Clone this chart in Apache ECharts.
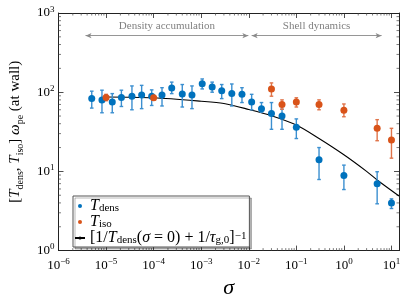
<!DOCTYPE html>
<html>
<head>
<meta charset="utf-8">
<script src="https://cdn.jsdelivr.net/npm/echarts@6/dist/echarts.min.js"></script>
<style>
html,body{margin:0;padding:0;background:#fff;}
#chart{width:407px;height:304px;}
</style>
</head>
<body>
<div id="chart"></div>
<script>
// ---- data ----
var blueX  = [5e-6, 8.2e-6, 1.35e-5, 2.1e-5, 3.5e-5, 5.6e-5, 9.1e-5, 1.5e-4, 2.4e-4, 4e-4, 6.4e-4, 1.05e-3, 1.7e-3, 2.7e-3, 4.4e-3, 7.2e-3, 1.15e-2, 1.85e-2, 3.0e-2, 5e-2, 0.1, 0.3, 1, 5, 10];
var blueY  = [83, 80, 75, 86, 89, 92, 89, 92, 113, 95, 92, 128, 116, 104, 96, 94, 75, 62, 54, 50, 36, 14, 8.9, 7.0, 4.0];
var blueLo = [63, 55, 55, 66, 60, 62, 68, 67, 96, 65, 62, 110, 100, 83, 67, 74, 60, 56, 34, 34, 26, 7.9, 5.9, 3.9, 3.4];
var blueHi = [103, 106, 96, 106, 120, 122, 107, 114, 134, 125, 120, 147, 134, 125, 127, 114, 94, 74, 74, 61, 46, 20, 12, 9.9, 4.5];

var orangeX  = [1e-5, 1e-4, 0.03, 0.05, 0.1, 0.3, 1, 5, 10];
var orangeY  = [86, 85, 110, 70, 75, 70, 59, 35, 25];
var orangeLo = [78, 79, 89, 61, 65, 60, 49, 24.4, 14.7];
var orangeHi = [94, 91, 131, 80, 85, 80, 71, 45, 35];

var fitX = [1e-5, 1e-4, 1e-3, 3e-3, 1e-2, 3e-2, 0.1, 0.3, 1, 3, 5, 14.4];
var fitY = [87, 85, 77, 72, 60.6, 50.5, 38.5, 26, 16.2, 10, 7.8, 4.9];

var xDecades = [-6, -5, -4, -3, -2, -1, 0, 1];
var yDecades = [0, 1, 2];
var minorSteps = [2, 3, 4, 5, 6, 7, 8, 9];

var annotations = [
  {text: 'Density accumulation', from: 3.7e-6, to: 0.0098, y: 518},
  {text: 'Shell dynamics', from: 0.0115, to: 6.2, y: 518}
];

var legendText = {
  'T_dens': '{i|T}{s|dens}',
  'T_iso': '{i|T}{s|iso}',
  'fit': '{n|[1/}{i|T}{s|dens}{n|(}{i|σ}{n| = 0) + 1/}{i|τ}{s|g,0}{n|]}{p|−1}'
};

// ---- chart ----
var FONT = 'Liberation Serif';
var XMIN = 1e-6, XMAX = 14.4, YMIN = 1, YMAX = 1000;
var BLUE = '#0072BD', BLUE_E = '#3b8fd0';
var ORANGE = '#D95319', ORANGE_E = '#e0744a';

function zip3(a, b, c) { return a.map(function (v, i) { return [v, b[i], c[i]]; }); }
function zip2(a, b) { return a.map(function (v, i) { return [v, b[i]]; }); }

// minor tick positions (axis decoration, k * 10^d)
var xMinor = [], yMinor = [];
xDecades.forEach(function (d) { minorSteps.forEach(function (k) {
  var v = k * Math.pow(10, d); if (v < XMAX) xMinor.push([v, YMIN]); }); });
yDecades.forEach(function (d) { minorSteps.forEach(function (k) {
  yMinor.push([XMIN, k * Math.pow(10, d)]); }); });

function tickLabel(value) {
  var lg = Math.log10(value);
  var e = Math.round(lg);
  if (Math.abs(lg - e) > 1e-6) return '';
  return '{b|10}{p|' + (e < 0 ? '−' + (-e) : e) + '}';
}
var tickRich = {
  b: {fontFamily: FONT, fontSize: 13, lineHeight: 16, color: '#000'},
  p: {fontFamily: FONT, fontSize: 9, lineHeight: 8, verticalAlign: 'top', color: '#000'}
};

function errRender(color) {
  return function (params, api) {
    var x = api.value(0), lo = api.value(1), hi = api.value(2);
    var p1 = api.coord([x, lo]), p2 = api.coord([x, hi]);
    var c = 1.8;
    var st = {stroke: color, lineWidth: 1.4};
    return {type: 'group', children: [
      {type: 'line', shape: {x1: p1[0], y1: p1[1], x2: p2[0], y2: p2[1]}, style: st},
      {type: 'line', shape: {x1: p1[0] - c, y1: p1[1], x2: p1[0] + c, y2: p1[1]}, style: st},
      {type: 'line', shape: {x1: p2[0] - c, y1: p2[1], x2: p2[0] + c, y2: p2[1]}, style: st}
    ]};
  };
}
var minorStyle = {stroke: '#444', lineWidth: 0.7};
function xMinorRender(params, api) {
  var v = api.value(0);
  var b = api.coord([v, YMIN]), t = api.coord([v, YMAX]);
  var L = 2.5;
  return {type: 'group', children: [
    {type: 'line', shape: {x1: b[0], y1: b[1], x2: b[0], y2: b[1] - L}, style: minorStyle},
    {type: 'line', shape: {x1: t[0], y1: t[1], x2: t[0], y2: t[1] + L}, style: minorStyle}
  ]};
}
function yMinorRender(params, api) {
  var v = api.value(1);
  var l = api.coord([XMIN, v]), r = api.coord([XMAX, v]);
  var L = 2.5;
  return {type: 'group', children: [
    {type: 'line', shape: {x1: l[0], y1: l[1], x2: l[0] + L, y2: l[1]}, style: minorStyle},
    {type: 'line', shape: {x1: r[0], y1: r[1], x2: r[0] - L, y2: r[1]}, style: minorStyle}
  ]};
}

var axisCommon = {
  type: 'log', logBase: 10,
  axisLine: {show: true, lineStyle: {color: '#222', width: 1}},
  axisTick: {show: true, inside: true, length: 5, lineStyle: {color: '#222', width: 0.8}},
  minorTick: {show: false},
  splitLine: {show: false},
  minorSplitLine: {show: false}
};

var chart = echarts.init(document.getElementById('chart'), null, {renderer: 'canvas'});
chart.setOption({
  animation: false,
  backgroundColor: '#fff',
  grid: {left: 52, right: 8, top: 13, bottom: 45},
  xAxis: [
    Object.assign({}, axisCommon, {
      position: 'bottom', min: XMIN, max: XMAX, interval: 1,
      axisLabel: {show: true, margin: 7, formatter: tickLabel, rich: tickRich, showMaxLabel: false},
      name: 'σ', nameLocation: 'middle', nameGap: 25,
      nameTextStyle: {fontFamily: FONT, fontStyle: 'italic', fontSize: 22, color: '#000'}
    }),
    Object.assign({}, axisCommon, {
      position: 'top', min: XMIN, max: XMAX, interval: 1, axisLabel: {show: false}
    })
  ],
  yAxis: [
    Object.assign({}, axisCommon, {
      position: 'left', min: YMIN, max: YMAX, interval: 1,
      axisLabel: {show: true, margin: 4, formatter: tickLabel, rich: tickRich},
      name: '{n|[}{i|T}{s|dens}{n|, }{i|T}{s|iso}{n|] }{i|ω}{s|pe}{n| (at wall)}',
      nameLocation: 'middle', nameGap: 33, nameRotate: 90,
      nameTextStyle: {
        fontFamily: FONT, fontSize: 15, color: '#000',
        rich: {
          n: {fontFamily: FONT, fontSize: 15, lineHeight: 20, color: '#000'},
          i: {fontFamily: FONT, fontSize: 15, lineHeight: 20, fontStyle: 'italic', color: '#000'},
          s: {fontFamily: FONT, fontSize: 10, lineHeight: 10, verticalAlign: 'bottom', color: '#000'}
        }
      }
    }),
    Object.assign({}, axisCommon, {
      position: 'right', min: YMIN, max: YMAX, interval: 1, axisLabel: {show: false}
    })
  ],
  legend: {
    show: true, orient: 'vertical', left: 73, top: 196,
    data: [
      {name: 'T_dens', icon: 'circle'},
      {name: 'T_iso', icon: 'circle'},
      {name: 'fit'}
    ],
    itemWidth: 10, itemHeight: 4, itemGap: 0,
    padding: [2, 3, 1, 1],
    backgroundColor: '#fff', borderColor: '#555', borderWidth: 1, borderRadius: 0,
    shadowColor: 'rgba(0,0,0,0.28)', shadowBlur: 0, shadowOffsetX: 2, shadowOffsetY: 2,
    selectedMode: false,
    formatter: function (name) { return legendText[name]; },
    textStyle: {
      fontFamily: FONT, fontSize: 16, color: '#000',
      rich: {
        n: {fontFamily: FONT, fontSize: 16, lineHeight: 15, color: '#000'},
        i: {fontFamily: FONT, fontSize: 16, lineHeight: 15, fontStyle: 'italic', color: '#000'},
        s: {fontFamily: FONT, fontSize: 11, lineHeight: 9, verticalAlign: 'bottom', color: '#000'},
        p: {fontFamily: FONT, fontSize: 11, lineHeight: 8, verticalAlign: 'top', color: '#000'}
      }
    }
  },
  series: [
    {
      name: 'xMinorTicks', type: 'custom', renderItem: xMinorRender, data: xMinor,
      encode: {x: 0, y: 1}, silent: true, z: 2, xAxisIndex: 0, yAxisIndex: 0
    },
    {
      name: 'yMinorTicks', type: 'custom', renderItem: yMinorRender, data: yMinor,
      encode: {x: 0, y: 1}, silent: true, z: 2, xAxisIndex: 0, yAxisIndex: 0
    },
    {
      name: 'fit', type: 'line', data: zip2(fitX, fitY), smooth: 0.3, symbol: 'none',
      lineStyle: {color: '#000', width: 1.1}, itemStyle: {color: '#000'}, z: 3,
      markLine: {
        silent: true, symbol: ['arrow', 'arrow'], symbolSize: [4, 6],
        lineStyle: {color: '#8a8a8a', width: 0.9, type: 'solid'},
        label: {show: true, position: 'insideMiddleTop', distance: 4,
          fontFamily: FONT, fontSize: 11, color: '#808080',
          formatter: function (p) { return p.name; }},
        data: annotations.map(function (a) {
          return [{name: a.text, coord: [a.from, a.y]}, {coord: [a.to, a.y]}];
        })
      }
    },
    {
      name: 'T_dens_err', type: 'custom', renderItem: errRender(BLUE_E),
      data: zip3(blueX, blueLo, blueHi), encode: {x: 0, y: [1, 2]}, z: 4, silent: true
    },
    {
      name: 'T_iso_err', type: 'custom', renderItem: errRender(ORANGE_E),
      data: zip3(orangeX, orangeLo, orangeHi), encode: {x: 0, y: [1, 2]}, z: 4, silent: true
    },
    {
      name: 'T_dens', type: 'scatter', data: zip2(blueX, blueY), symbol: 'circle', symbolSize: 7,
      itemStyle: {color: BLUE, opacity: 1}, z: 5
    },
    {
      name: 'T_iso', type: 'scatter', data: zip2(orangeX, orangeY), symbol: 'circle', symbolSize: 7,
      itemStyle: {color: ORANGE, opacity: 1}, z: 5
    }
  ]
});
</script>
</body>
</html>
